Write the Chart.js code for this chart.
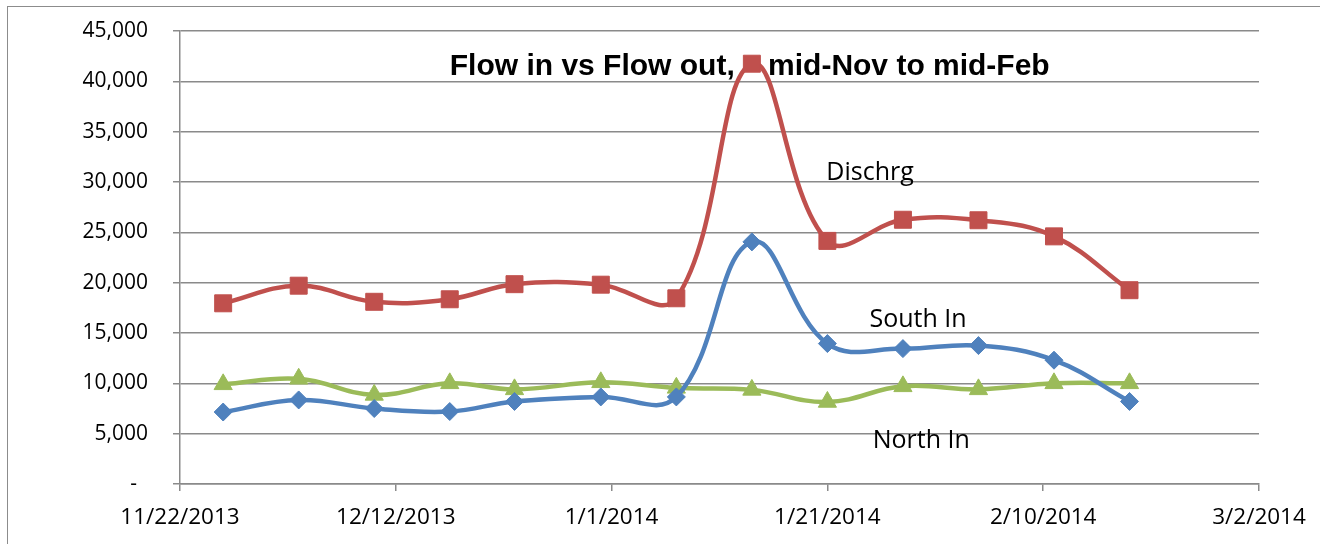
<!DOCTYPE html>
<html>
<head>
<meta charset="utf-8">
<script src="https://cdn.jsdelivr.net/npm/chart.js@4.4.1/dist/chart.umd.min.js"></script>
<style>
  html, body { margin: 0; padding: 0; background: #fff; overflow: hidden; }
  #wrap { position: relative; width: 1320px; height: 544px; }
  #frame {
    position: absolute; left: 7px; top: 6px; right: -10px; bottom: -10px;
    border: 1.5px solid #8c8c8c;
  }
  canvas { position: absolute; left: 0; top: 0; }
</style>
</head>
<body>
<div id="wrap">
  <div id="frame"></div>
  <canvas id="chart" width="1320" height="544"></canvas>
</div>
<script>
// sample dates (weekly readings)
const dates = [
  '2013-11-26', '2013-12-03', '2013-12-10', '2013-12-17', '2013-12-23',
  '2013-12-31', '2014-01-07', '2014-01-14', '2014-01-21', '2014-01-28',
  '2014-02-04', '2014-02-11', '2014-02-18',
];
const dischrg = [17950, 19700, 18100, 18350, 19850, 19800, 18450, 41750, 24150, 26250, 26200, 24600, 19250];
const southIn = [7150, 8350, 7500, 7200, 8200, 8650, 8650, 24050, 13950, 13450, 13750, 12300, 8200];
const northIn = [9900, 10450, 8850, 10000, 9400, 10100, 9550, 9350, 8150, 9700, 9400, 10000, 10000];

// x axis runs 11/22/2013 .. 3/2/2014, a tick every 20 days
const axisStart = '2013-11-22';
const axisDays = 100;
const tickDays = 20;

const chartTitle = 'Flow in vs Flow out,    mid-Nov to mid-Feb';
// in-plot labels: [text, days after axisStart, value at text baseline]
const seriesLabels = [
  ['Dischrg', 59.9, 30230],
  ['South In', 63.9, 15630],
  ['North In', 64.2, 3600],
];
const titleAt = [52.8, 40600];

const DAY = 86400000;
const base = Date.parse(axisStart + 'T00:00:00Z');
const dayOf = (s) => Math.round((Date.parse(s + 'T00:00:00Z') - base) / DAY);
const pts = (vals) => vals.map((v, i) => ({ x: dayOf(dates[i]), y: v }));

function fmtDate(d) {
  const dt = new Date(base + d * DAY);
  return (dt.getUTCMonth() + 1) + '/' + dt.getUTCDate() + '/' + dt.getUTCFullYear();
}

const GRID = '#8a8a8a';

// draws the title and series names inside the plot area
const textPlugin = {
  id: 'plotText',
  afterDatasetsDraw(chart) {
    const { ctx, scales: { x, y } } = chart;
    ctx.save();
    ctx.fillStyle = '#000';
    ctx.textBaseline = 'alphabetic';
    ctx.font = 'bold 30px "Liberation Sans", Arial, sans-serif';
    ctx.textAlign = 'center';
    ctx.fillText(chartTitle, x.getPixelForValue(titleAt[0]), y.getPixelForValue(titleAt[1]));
    ctx.font = '25px "Open Sans", sans-serif';
    ctx.textAlign = 'left';
    seriesLabels.forEach(([txt, d, v]) => {
      ctx.fillText(txt, x.getPixelForValue(d), y.getPixelForValue(v));
    });
    ctx.restore();
  },
};

const line = (label, data, color, style, radius, order) => ({
  label,
  data: pts(data),
  borderColor: color,
  backgroundColor: color,
  borderWidth: 4.5,
  tension: 0.4,
  pointStyle: style,
  pointRadius: radius,
  pointBackgroundColor: color,
  pointBorderColor: color,
  pointBorderWidth: 1,
  order,
});

new Chart(document.getElementById('chart'), {
  type: 'line',
  data: {
    datasets: [
      line('Dischrg', dischrg, '#C0504D', 'rect', 12, 2),
      line('South In', southIn, '#4F81BD', 'rectRot', 9, 1),
      line('North In', northIn, '#9BBB59', 'triangle', 10.5, 3),
    ],
  },
  options: {
    responsive: false,
    animation: false,
    layout: { padding: { top: 31, right: 61, left: 0, bottom: 0 } },
    plugins: {
      legend: { display: false },
      tooltip: { enabled: false },
    },
    scales: {
      x: {
        type: 'linear',
        min: 0,
        max: axisDays,
        afterFit: (s) => { s.height = 60; },
        grid: { drawOnChartArea: false, drawTicks: true, tickLength: 7, color: GRID, lineWidth: 1.5 },
        border: { display: true, color: GRID, width: 1.5 },
        ticks: {
          stepSize: tickDays,
          color: '#000',
          font: { family: 'Open Sans', size: 22.5 },
          padding: 13,
          maxRotation: 0,
          callback: (v) => fmtDate(v),
        },
      },
      y: {
        min: 0,
        max: 45000,
        afterFit: (s) => { s.width = 180; s.paddingTop = 0; s.paddingBottom = 0; },
        grid: { color: GRID, lineWidth: 1.5, drawTicks: true, tickLength: 7 },
        border: { display: true, color: GRID, width: 1.5 },
        ticks: {
          stepSize: 5000,
          color: '#000',
          font: { family: 'Open Sans', size: 21 },
          padding: 25,
          callback: (v) => (v === 0 ? '-  ' : v.toLocaleString('en-US')),
        },
      },
    },
  },
  plugins: [textPlugin],
});
</script>
</body>
</html>
